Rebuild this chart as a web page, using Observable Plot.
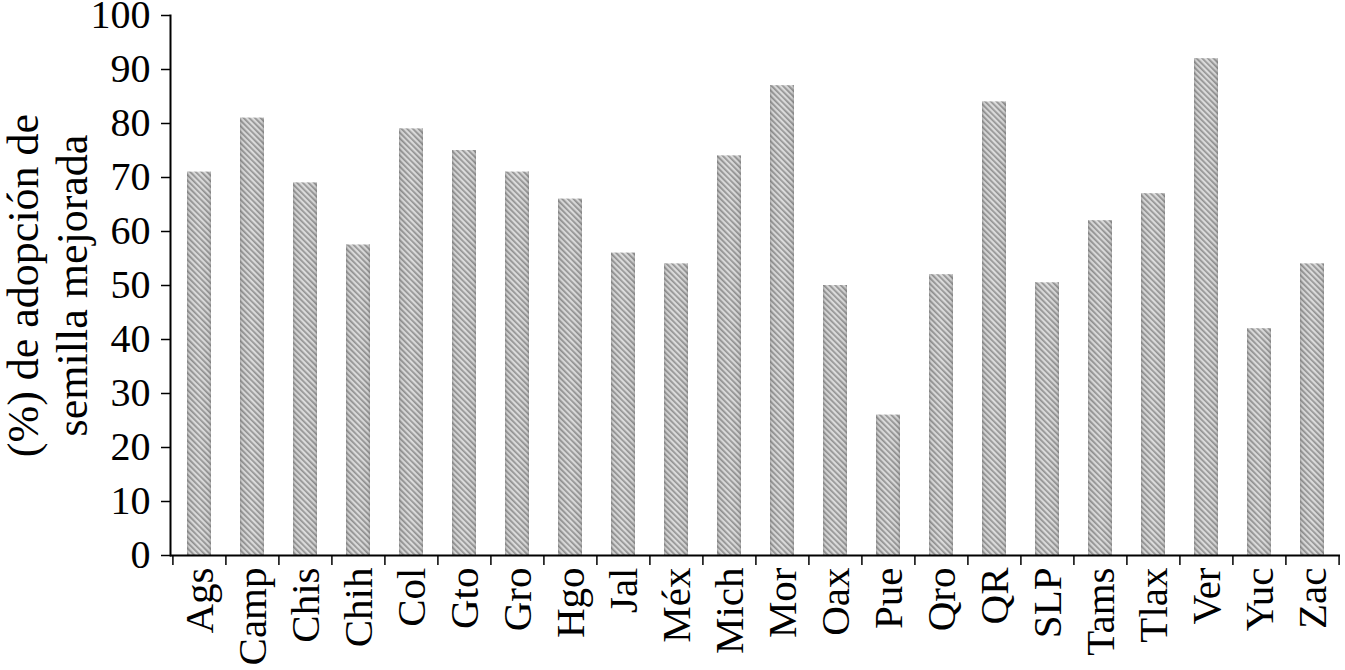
<!DOCTYPE html>
<html>
<head>
<meta charset="utf-8">
<script src="https://cdn.jsdelivr.net/npm/d3@7"></script>
<script src="https://cdn.jsdelivr.net/npm/@observablehq/plot@0.6"></script>
<style>
  html, body { margin: 0; padding: 0; background: #fff; }
  svg { display: block; }
  #chart svg, #chart svg text { font-family: "Liberation Serif", "Times New Roman", serif !important; }
</style>
</head>
<body>
<div id="chart"></div>
<script>
const states = ["Ags","Camp","Chis","Chih","Col","Gto","Gro","Hgo","Jal","Méx","Mich","Mor","Oax","Pue","Qro","QR","SLP","Tams","Tlax","Ver","Yuc","Zac"];
const adoption = [71,81,69,57.5,79,75,71,66,56,54,74,87,50,26,52,84,50.5,62,67,92,42,54];
const yTicks = [0,10,20,30,40,50,60,70,80,90,100];
const yLabel = "(%) de adopción de\nsemilla mejorada";

const data = states.map((s, i) => ({state: s, value: adoption[i]}));

const W = 1345, H = 670;
const mL = 170, mR = 5, mT = 15, mB = 115;
const step = (W - mL - mR) / states.length;
const font = "Liberation Serif";

const chart = Plot.plot({
  width: W,
  height: H,
  marginLeft: mL,
  marginRight: mR,
  marginTop: mT,
  marginBottom: mB,
  style: {fontFamily: font, fontSize: "40px", color: "#000", background: "#fff", overflow: "visible"},
  x: {domain: states, paddingInner: 0.55, paddingOuter: 0.275},
  y: {domain: [0, 100]},
  marks: [
    Plot.barY(data, {x: "state", y: "value", fill: "url(#hatch)"}),
    Plot.barY(data, {x: "state", y: "value", fill: "url(#shade)"}),
    Plot.frame({anchor: "left", stroke: "#000", strokeWidth: 2}),
    Plot.ruleY([0], {stroke: "#000", strokeWidth: 2}),
    Plot.ruleX(states, {x: d => d, y1: 0, y2: -1.85, dx: -step / 2, stroke: "#000", strokeWidth: 1.5}),
    Plot.ruleX(states.slice(-1), {x: d => d, y1: 0, y2: -1.85, dx: step / 2, stroke: "#000", strokeWidth: 1.5}),
    Plot.axisY({ticks: yTicks, tickSize: 9, tickPadding: 11, tickFormat: d => String(d), label: null, fontSize: 40, strokeWidth: 1.5}),
    Plot.axisX({tickSize: 0, tickPadding: 12, tickRotate: -90, label: null, fontSize: 41}),
    Plot.text([yLabel], {frameAnchor: "left", textAnchor: "middle", lineAnchor: "middle", rotate: -90, dx: -124, fontSize: 44, lineHeight: 1.12, fill: "#000"})
  ]
});

// defs: diagonal hatch and cylinder-like shading
const defs = d3.create("svg:defs");
const pat = defs.append("pattern")
  .attr("id", "hatch")
  .attr("patternUnits", "userSpaceOnUse")
  .attr("width", 4).attr("height", 4)
  .attr("patternTransform", "rotate(-45)");
pat.append("rect").attr("width", 4).attr("height", 4).attr("fill", "#d9d9d9");
pat.append("rect").attr("width", 1.7).attr("height", 4).attr("fill", "#8a8a8a");
const grad = defs.append("linearGradient")
  .attr("id", "shade")
  .attr("x1", 0).attr("x2", 1).attr("y1", 0).attr("y2", 0);
[[0, "#666", 0.4], [0.12, "#999", 0.1], [0.5, "#fff", 0.1], [0.88, "#999", 0.1], [1, "#666", 0.4]]
  .forEach(([o, c, a]) => grad.append("stop").attr("offset", o).attr("stop-color", c).attr("stop-opacity", a));
chart.insertBefore(defs.node(), chart.firstChild);

document.getElementById("chart").appendChild(chart);
</script>
</body>
</html>
